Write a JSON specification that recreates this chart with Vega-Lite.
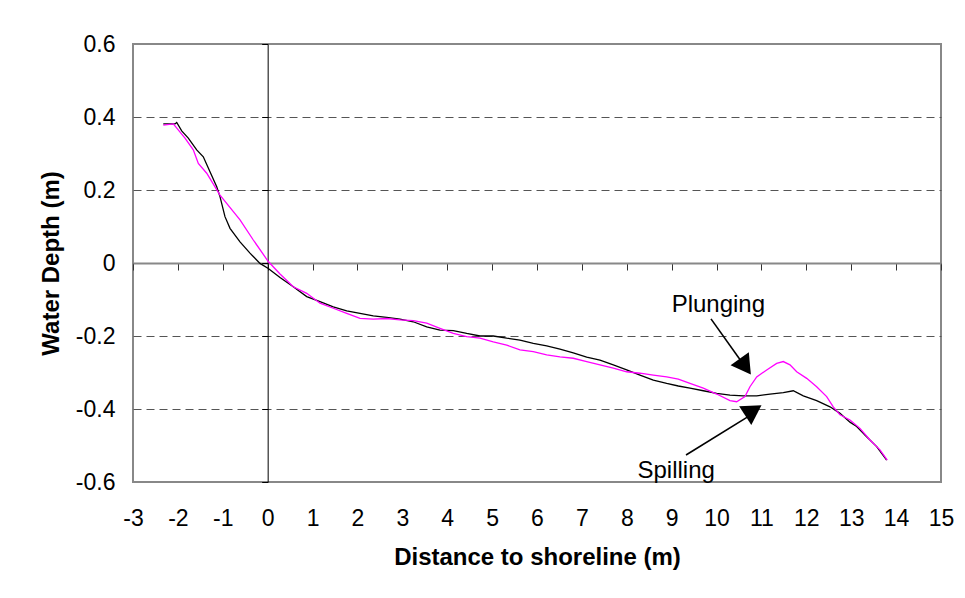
{
  "$schema": "https://vega.github.io/schema/vega-lite/v6.json",
  "width": 808,
  "height": 438,
  "autosize": {"type": "none"},
  "padding": {"left": 133, "top": 44, "right": 24, "bottom": 116},
  "background": "white",
  "config": {
    "view": {"stroke": "#888888", "strokeWidth": 2},
    "font": "Liberation Sans",
    "axis": {"labelFont": "Liberation Sans", "titleFont": "Liberation Sans", "labelColor": "black", "titleColor": "black"}
  },
  "datasets": {
    "profiles": [
      {"x": -2.325, "y": 0.381, "series": "Spilling"},
      {"x": -2.064, "y": 0.381, "series": "Spilling"},
      {"x": -2.026, "y": 0.385, "series": "Spilling"},
      {"x": -1.915, "y": 0.362, "series": "Spilling"},
      {"x": -1.768, "y": 0.342, "series": "Spilling"},
      {"x": -1.581, "y": 0.310, "series": "Spilling"},
      {"x": -1.434, "y": 0.291, "series": "Spilling"},
      {"x": -1.285, "y": 0.250, "series": "Spilling"},
      {"x": -1.135, "y": 0.209, "series": "Spilling"},
      {"x": -1.062, "y": 0.182, "series": "Spilling"},
      {"x": -0.951, "y": 0.127, "series": "Spilling"},
      {"x": -0.839, "y": 0.095, "series": "Spilling"},
      {"x": -0.616, "y": 0.058, "series": "Spilling"},
      {"x": -0.394, "y": 0.027, "series": "Spilling"},
      {"x": -0.171, "y": -0.001, "series": "Spilling"},
      {"x": 0.014, "y": -0.015, "series": "Spilling"},
      {"x": 0.275, "y": -0.040, "series": "Spilling"},
      {"x": 0.571, "y": -0.065, "series": "Spilling"},
      {"x": 0.870, "y": -0.092, "series": "Spilling"},
      {"x": 1.166, "y": -0.106, "series": "Spilling"},
      {"x": 1.462, "y": -0.120, "series": "Spilling"},
      {"x": 1.761, "y": -0.131, "series": "Spilling"},
      {"x": 2.057, "y": -0.138, "series": "Spilling"},
      {"x": 2.353, "y": -0.145, "series": "Spilling"},
      {"x": 2.652, "y": -0.149, "series": "Spilling"},
      {"x": 2.948, "y": -0.154, "series": "Spilling"},
      {"x": 3.244, "y": -0.161, "series": "Spilling"},
      {"x": 3.543, "y": -0.175, "series": "Spilling"},
      {"x": 3.839, "y": -0.184, "series": "Spilling"},
      {"x": 4.135, "y": -0.185, "series": "Spilling"},
      {"x": 4.434, "y": -0.193, "series": "Spilling"},
      {"x": 4.730, "y": -0.200, "series": "Spilling"},
      {"x": 5.026, "y": -0.200, "series": "Spilling"},
      {"x": 5.325, "y": -0.206, "series": "Spilling"},
      {"x": 5.621, "y": -0.211, "series": "Spilling"},
      {"x": 5.917, "y": -0.220, "series": "Spilling"},
      {"x": 6.216, "y": -0.227, "series": "Spilling"},
      {"x": 6.512, "y": -0.236, "series": "Spilling"},
      {"x": 6.808, "y": -0.246, "series": "Spilling"},
      {"x": 7.107, "y": -0.258, "series": "Spilling"},
      {"x": 7.403, "y": -0.266, "series": "Spilling"},
      {"x": 7.700, "y": -0.279, "series": "Spilling"},
      {"x": 7.998, "y": -0.293, "series": "Spilling"},
      {"x": 8.294, "y": -0.307, "series": "Spilling"},
      {"x": 8.591, "y": -0.321, "series": "Spilling"},
      {"x": 8.889, "y": -0.330, "series": "Spilling"},
      {"x": 9.148, "y": -0.337, "series": "Spilling"},
      {"x": 9.408, "y": -0.343, "series": "Spilling"},
      {"x": 9.705, "y": -0.350, "series": "Spilling"},
      {"x": 10.003, "y": -0.357, "series": "Spilling"},
      {"x": 10.299, "y": -0.362, "series": "Spilling"},
      {"x": 10.596, "y": -0.364, "series": "Spilling"},
      {"x": 10.894, "y": -0.364, "series": "Spilling"},
      {"x": 11.190, "y": -0.359, "series": "Spilling"},
      {"x": 11.487, "y": -0.355, "series": "Spilling"},
      {"x": 11.709, "y": -0.350, "series": "Spilling"},
      {"x": 11.932, "y": -0.364, "series": "Spilling"},
      {"x": 12.230, "y": -0.377, "series": "Spilling"},
      {"x": 12.527, "y": -0.394, "series": "Spilling"},
      {"x": 12.750, "y": -0.412, "series": "Spilling"},
      {"x": 12.972, "y": -0.436, "series": "Spilling"},
      {"x": 13.121, "y": -0.448, "series": "Spilling"},
      {"x": 13.344, "y": -0.476, "series": "Spilling"},
      {"x": 13.567, "y": -0.503, "series": "Spilling"},
      {"x": 13.790, "y": -0.540, "series": "Spilling"},
      {"x": -2.325, "y": 0.378, "series": "Plunging"},
      {"x": -2.102, "y": 0.381, "series": "Plunging"},
      {"x": -1.842, "y": 0.342, "series": "Plunging"},
      {"x": -1.657, "y": 0.310, "series": "Plunging"},
      {"x": -1.545, "y": 0.273, "series": "Plunging"},
      {"x": -1.358, "y": 0.246, "series": "Plunging"},
      {"x": -1.062, "y": 0.186, "series": "Plunging"},
      {"x": -0.616, "y": 0.118, "series": "Plunging"},
      {"x": -0.320, "y": 0.063, "series": "Plunging"},
      {"x": 0.014, "y": 0.004, "series": "Plunging"},
      {"x": 0.275, "y": -0.030, "series": "Plunging"},
      {"x": 0.571, "y": -0.065, "series": "Plunging"},
      {"x": 0.870, "y": -0.083, "series": "Plunging"},
      {"x": 1.166, "y": -0.110, "series": "Plunging"},
      {"x": 1.462, "y": -0.124, "series": "Plunging"},
      {"x": 1.761, "y": -0.138, "series": "Plunging"},
      {"x": 2.057, "y": -0.152, "series": "Plunging"},
      {"x": 2.353, "y": -0.154, "series": "Plunging"},
      {"x": 2.652, "y": -0.152, "series": "Plunging"},
      {"x": 2.948, "y": -0.156, "series": "Plunging"},
      {"x": 3.244, "y": -0.158, "series": "Plunging"},
      {"x": 3.543, "y": -0.165, "series": "Plunging"},
      {"x": 3.839, "y": -0.179, "series": "Plunging"},
      {"x": 4.135, "y": -0.193, "series": "Plunging"},
      {"x": 4.434, "y": -0.202, "series": "Plunging"},
      {"x": 4.730, "y": -0.206, "series": "Plunging"},
      {"x": 5.026, "y": -0.216, "series": "Plunging"},
      {"x": 5.325, "y": -0.225, "series": "Plunging"},
      {"x": 5.621, "y": -0.238, "series": "Plunging"},
      {"x": 5.917, "y": -0.243, "series": "Plunging"},
      {"x": 6.216, "y": -0.252, "series": "Plunging"},
      {"x": 6.512, "y": -0.257, "series": "Plunging"},
      {"x": 6.808, "y": -0.261, "series": "Plunging"},
      {"x": 7.107, "y": -0.270, "series": "Plunging"},
      {"x": 7.403, "y": -0.279, "series": "Plunging"},
      {"x": 7.700, "y": -0.288, "series": "Plunging"},
      {"x": 7.998, "y": -0.298, "series": "Plunging"},
      {"x": 8.294, "y": -0.302, "series": "Plunging"},
      {"x": 8.591, "y": -0.307, "series": "Plunging"},
      {"x": 8.889, "y": -0.312, "series": "Plunging"},
      {"x": 9.148, "y": -0.318, "series": "Plunging"},
      {"x": 9.408, "y": -0.330, "series": "Plunging"},
      {"x": 9.705, "y": -0.343, "series": "Plunging"},
      {"x": 10.003, "y": -0.359, "series": "Plunging"},
      {"x": 10.299, "y": -0.377, "series": "Plunging"},
      {"x": 10.448, "y": -0.380, "series": "Plunging"},
      {"x": 10.633, "y": -0.366, "series": "Plunging"},
      {"x": 10.744, "y": -0.339, "series": "Plunging"},
      {"x": 10.894, "y": -0.312, "series": "Plunging"},
      {"x": 11.117, "y": -0.293, "series": "Plunging"},
      {"x": 11.339, "y": -0.275, "series": "Plunging"},
      {"x": 11.487, "y": -0.270, "series": "Plunging"},
      {"x": 11.636, "y": -0.279, "series": "Plunging"},
      {"x": 11.785, "y": -0.298, "series": "Plunging"},
      {"x": 12.008, "y": -0.316, "series": "Plunging"},
      {"x": 12.230, "y": -0.339, "series": "Plunging"},
      {"x": 12.453, "y": -0.366, "series": "Plunging"},
      {"x": 12.600, "y": -0.394, "series": "Plunging"},
      {"x": 12.750, "y": -0.416, "series": "Plunging"},
      {"x": 12.972, "y": -0.430, "series": "Plunging"},
      {"x": 13.195, "y": -0.453, "series": "Plunging"},
      {"x": 13.418, "y": -0.485, "series": "Plunging"},
      {"x": 13.641, "y": -0.512, "series": "Plunging"},
      {"x": 13.803, "y": -0.540, "series": "Plunging"}
    ],
    "arrows": [
      {"label": "Plunging", "x": 9.876, "y": -0.153, "x2": 10.68, "y2": -0.292},
      {"label": "Spilling", "x": 9.32, "y": -0.526, "x2": 10.82, "y2": -0.412}
    ],
    "labels": [
      {"label": "Plunging", "x": 10.04, "y": -0.134},
      {"label": "Spilling", "x": 9.10, "y": -0.589}
    ],
    "heads": [
      {"label": "Plunging", "x": 10.64, "y": -0.284},
      {"label": "Spilling", "x": 10.82, "y": -0.404}
    ]
  },
  "resolve": {"axis": {"x": "independent", "y": "independent"}},
  "layer": [
    {
      "data": {"name": "profiles"},
      "mark": {"type": "line", "strokeWidth": 1.3, "clip": true},
      "encoding": {
        "x": {
          "field": "x", "type": "quantitative",
          "scale": {"domain": [-3, 15], "nice": false, "zero": false},
          "axis": {
            "orient": "bottom",
            "values": [-3, -2, -1, 0, 1, 2, 3, 4, 5, 6, 7, 8, 9, 10, 11, 12, 13, 14, 15],
            "labelExpr": "replace(format(datum.value, 'd'), '\u2212', '-')",
            "domain": false, "ticks": false, "tickSize": 0, "grid": false,
            "labelFontSize": 23, "labelPadding": 25, "labelFlush": false, "labelOverlap": false,
            "title": "Distance to shoreline (m)", "titleFontSize": 24, "titleFontWeight": "bold", "titlePadding": 15
          }
        },
        "y": {
          "field": "y", "type": "quantitative",
          "scale": {"domain": [-0.6, 0.6], "nice": false, "zero": false},
          "axis": {
            "orient": "left",
            "values": [-0.6, -0.4, -0.2, 0, 0.2, 0.4, 0.6],
            "labelExpr": "replace(format(datum.value, '~g'), '\u2212', '-')",
            "domain": false, "ticks": false, "tickSize": 0,
            "grid": true, "gridColor": "#555555", "gridDash": [8, 5], "gridWidth": 1,
            "gridOpacity": {"condition": {"test": "datum.value === 0 || abs(datum.value) > 0.55", "value": 0}, "value": 1},
            "labelFontSize": 23, "labelPadding": 18, "labelFlush": false, "labelOverlap": false,
            "title": "Water Depth (m)", "titleFontSize": 24, "titleFontWeight": "bold", "titlePadding": 12
          }
        },
        "color": {
          "field": "series", "type": "nominal",
          "scale": {"domain": ["Spilling", "Plunging"], "range": ["#000000", "#FF00FF"]},
          "legend": null
        },
        "order": {"field": "x", "type": "quantitative"}
      }
    },
    {
      "data": {"name": "arrows"},
      "mark": {"type": "rule", "color": "black", "strokeWidth": 1.6},
      "encoding": {
        "x": {
          "field": "x", "type": "quantitative",
          "axis": {
            "orient": "bottom", "offset": -219,
            "values": [-3, -2, -1, 0, 1, 2, 3, 4, 5, 6, 7, 8, 9, 10, 11, 12, 13, 14, 15],
            "labels": false, "grid": false, "title": null,
            "domain": true, "domainColor": "#888888", "domainWidth": 2,
            "ticks": true, "tickColor": "#333333", "tickSize": 7, "tickWidth": 1
          }
        },
        "y": {
          "field": "y", "type": "quantitative",
          "axis": {
            "orient": "left", "offset": -134.67,
            "values": [-0.6, -0.4, -0.2, 0, 0.2, 0.4, 0.6],
            "labels": false, "grid": false, "title": null,
            "domain": true, "domainColor": "#000000", "domainWidth": 1,
            "ticks": true, "tickColor": "#000000", "tickSize": 6, "tickWidth": 1
          }
        },
        "x2": {"field": "x2"},
        "y2": {"field": "y2"}
      }
    },
    {
      "data": {"name": "heads"},
      "transform": [{"filter": "datum.label === 'Plunging'"}],
      "mark": {"type": "point", "shape": "triangle-up", "filled": true, "color": "black", "opacity": 1, "size": 500, "angle": 144.7},
      "encoding": {
        "x": {"field": "x", "type": "quantitative", "axis": null},
        "y": {"field": "y", "type": "quantitative", "axis": null}
      }
    },
    {
      "data": {"name": "heads"},
      "transform": [{"filter": "datum.label === 'Spilling'"}],
      "mark": {"type": "point", "shape": "triangle-up", "filled": true, "color": "black", "opacity": 1, "size": 500, "angle": 57.1},
      "encoding": {
        "x": {"field": "x", "type": "quantitative", "axis": null},
        "y": {"field": "y", "type": "quantitative", "axis": null}
      }
    },
    {
      "data": {"name": "labels"},
      "mark": {"type": "text", "fontSize": 24, "font": "Liberation Sans", "align": "center", "baseline": "alphabetic", "color": "black"},
      "encoding": {
        "x": {"field": "x", "type": "quantitative", "axis": null},
        "y": {"field": "y", "type": "quantitative", "axis": null},
        "text": {"field": "label"}
      }
    }
  ]
}
